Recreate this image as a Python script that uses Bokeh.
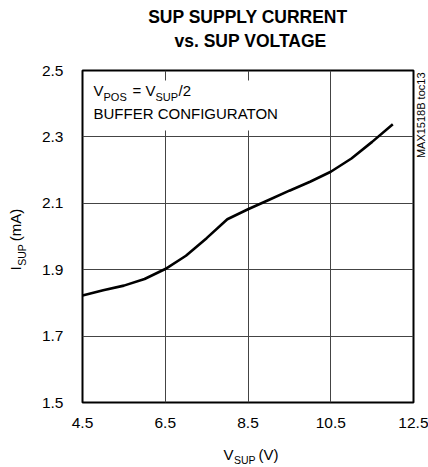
import math
from bokeh.plotting import figure
from bokeh.models import Label, FixedTicker, BoxAnnotation, Range1d
from bokeh.embed import file_html
from bokeh.resources import INLINE

# ---- data ----
v_sup = [4.5, 5.0, 5.5, 6.0, 6.5, 7.0, 7.5, 8.0, 8.5, 9.0, 9.5, 10.0, 10.5, 11.0, 11.5, 12.0]
i_sup = [1.822, 1.838, 1.852, 1.872, 1.902, 1.942, 1.995, 2.052, 2.082, 2.110, 2.138, 2.165,
         2.195, 2.235, 2.285, 2.338]

x_ticks = [4.5, 6.5, 8.5, 10.5, 12.5]
x_tick_labels = ["4.5", "6.5", "8.5", "10.5", "12.5"]
y_ticks = [1.5, 1.7, 1.9, 2.1, 2.3, 2.5]
y_tick_labels = ["1.5", "1.7", "1.9", "2.1", "2.3", "2.5"]

title_lines = ["SUP SUPPLY CURRENT", "vs. SUP VOLTAGE"]
note_line2 = "BUFFER CONFIGURATON"
side_note = "MAX1518B toc13"

FONT = "Liberation Sans"
NBSP = "\u00a0"

X0, X1 = 4.5, 12.5
Y0, Y1 = 1.5, 2.5
W, H = 428, 467
LEFT, RIGHT, TOP, BOTTOM = 82, 15, 70, 65

p = figure(width=W, height=H, x_range=Range1d(X0, X1), y_range=Range1d(Y0, Y1),
           output_backend="svg", toolbar_location=None,
           min_border_left=LEFT, min_border_right=RIGHT,
           min_border_top=TOP, min_border_bottom=BOTTOM)

fw = W - LEFT - RIGHT
fh = H - TOP - BOTTOM


def dx(px):
    """canvas x pixel -> data x"""
    return X0 + (px - LEFT) * (X1 - X0) / fw


def dy(py):
    """canvas y pixel -> data y"""
    return Y1 - (py - TOP) * (Y1 - Y0) / fh


p.outline_line_color = "black"
p.outline_line_width = 2
p.background_fill_color = "white"
p.border_fill_color = "white"

for ax, ticks, labels in ((p.xaxis, x_ticks, x_tick_labels), (p.yaxis, y_ticks, y_tick_labels)):
    ax.ticker = FixedTicker(ticks=ticks)
    ax.major_label_overrides = {t: l for t, l in zip(ticks, labels)}
    ax.axis_line_color = None
    ax.major_tick_line_color = None
    ax.minor_tick_line_color = None
    ax.major_tick_out = 0
    ax.major_tick_in = 0
    ax.major_label_text_font = FONT
    ax.major_label_text_font_size = "15.5px"
    ax.major_label_text_color = "black"

p.xaxis.major_label_standoff = 15
p.yaxis.major_label_standoff = 19

p.xgrid.ticker = FixedTicker(ticks=x_ticks)
p.ygrid.ticker = FixedTicker(ticks=y_ticks)
for g in (p.xgrid, p.ygrid):
    g.grid_line_color = "#444444"
    g.grid_line_width = 1

p.line(v_sup, i_sup, line_width=2.6, color="black")

# white box behind the note
p.add_layout(BoxAnnotation(left=dx(83.5), right=dx(285), top=dy(80), bottom=dy(130),
                           fill_color="white", fill_alpha=1.0, line_color=None))


def lab(text, px, py, size, place="center", **kw):
    p.add_layout(Label(x=dx(px), y=dy(py), text=text, text_font=FONT,
                       text_font_size=f"{size}px", text_color="black", **kw), place)


# title
lab(title_lines[0], 247.5, 26, 17.5, "above", text_align="center", text_font_style="bold")
lab(title_lines[1], 250, 50, 17.5, "above", text_align="center", text_font_style="bold")

# side note
lab(side_note, 420, 72, 11, "right", angle=math.pi / 2, text_align="right", text_baseline="middle")

# note inside the frame
lab("V", 93, 98, 15)
lab("POS", 103, 102, 11)
lab("= V", 132, 98, 15)
lab("SUP", 155, 102, 11)
lab("/2", 178, 98, 15)
lab(note_line2, 93, 121, 15)

# y axis label  (I_SUP (mA))
lab("I" + NBSP * 6 + "(mA)", 23, 270, 15, "left", angle=math.pi / 2)
lab("SUP", 27, 265.3, 10.5, "left", angle=math.pi / 2)

# x axis label  (V_SUP (V))
lab("V" + NBSP * 6 + "(V)", 223, 462, 15, "below")
lab("SUP", 233.5, 465, 10.5, "above")

open("out.html", "w").write(file_html(p, INLINE))
